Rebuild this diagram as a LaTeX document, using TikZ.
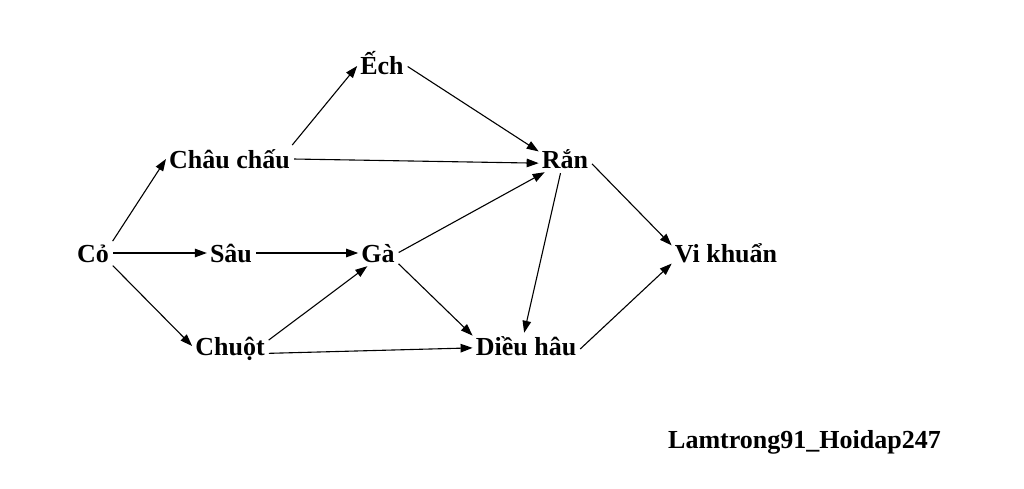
\documentclass[tikz,border=0pt]{standalone}
\usepackage{fontspec}
\setmainfont{Liberation Serif}
\usetikzlibrary{arrows.meta}
\begin{document}
\begin{tikzpicture}[x=1pt,y=-1pt,
  lbl/.style={font=\fontsize{26}{30}\selectfont\bfseries, anchor=base, inner sep=3pt, text height=19pt, text depth=1pt},
  arr/.style={-{Triangle[length=12pt,width=8.5pt]}, line width=1.1pt, shorten <=1pt}]
\useasboundingbox (0,0) rectangle (1024,489);
\node[lbl] (co) at (93,262) {Cỏ};
\node[lbl] (cc) at (229.5,168) {Châu chấu};
\node[lbl] (sau) at (231,262) {Sâu};
\node[lbl] (chuot) at (230,355) {Chuột};
\node[lbl] (ech) at (382,75) {Ếch};
\node[lbl] (ga) at (378,262) {Gà};
\node[lbl] (ran) at (565,168) {Rắn};
\node[lbl] (dh) at (526,355) {Diều hâu};
\node[lbl] (vk) at (726,262) {Vi khuẩn};
\node[lbl] (sig) at (804.5,448) {Lamtrong91\_Hoidap247};
\draw[arr] (co.30) -- (cc.west);
\draw[arr] (co.east) -- (sau.west);
\draw[arr] (co.-32) -- (chuot.west);
\draw[arr] (cc.12) -- (ech.west);
\draw[arr] (cc.east) -- (ran.189);
\draw[arr] (sau.east) -- (ga.west);
\draw[arr] (chuot.8) -- (ga.231);
\draw[arr] (chuot.-11) -- (dh.182);
\draw[arr] (ech.east) -- (ran.164);
\draw[arr] (ga.east) -- (ran.213);
\draw[arr] (ga.-27) -- (dh.169);
\draw[arr] (ran.252) -- (dh.98);
\draw[arr] (ran.-9) -- (vk.172);
\draw[arr] (dh.-4) -- (vk.191);
\end{tikzpicture}
\end{document}
